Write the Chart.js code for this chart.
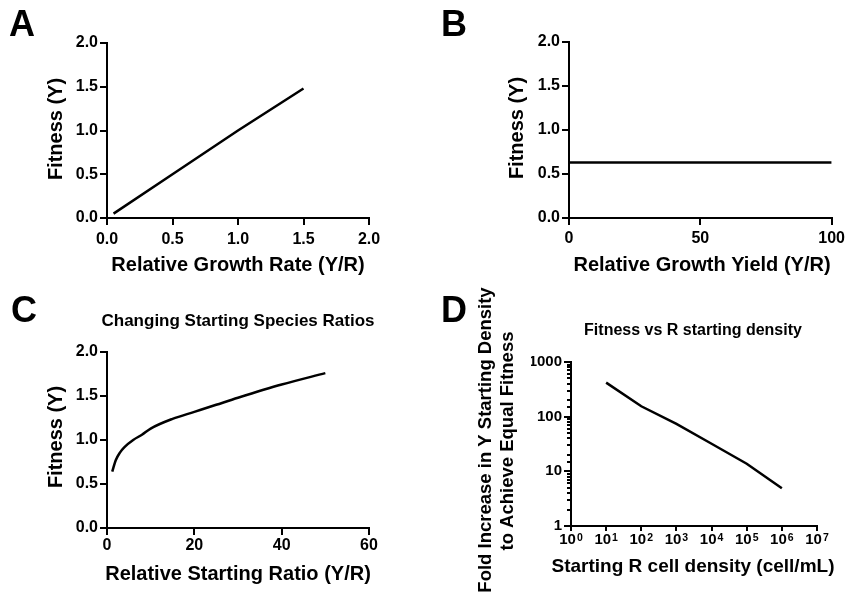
<!DOCTYPE html>
<html>
<head>
<meta charset="utf-8">
<script src="https://cdn.jsdelivr.net/npm/chart.js@4"></script>
<style>
  body { margin: 0; background: #fff; }
  #wrap { position: relative; width: 849px; height: 601px; }
  canvas { position: absolute; left: 0; top: 0; }
</style>
</head>
<body>
<div id="wrap">
  <canvas id="chartA" width="849" height="601"></canvas>
  <canvas id="chartB" width="849" height="601"></canvas>
  <canvas id="chartC" width="849" height="601"></canvas>
  <canvas id="chartD" width="849" height="601"></canvas>
</div>
<script>
// Panel A - fitness vs relative growth rate
const rateA = [0.05, 0.5, 1.0, 1.5];
const fitnessA = [0.05, 0.5, 1.0, 1.48];
const ticksXA = [0, 0.5, 1, 1.5, 2];
const ticksYA = [0, 0.5, 1, 1.5, 2];

// Panel B - fitness vs relative growth yield
const yieldB = [0, 100];
const fitnessB = [0.63, 0.63];
const ticksXB = [0, 50, 100];
const ticksYB = [0, 0.5, 1, 1.5, 2];

// Panel C - fitness vs starting ratio
const ratioC = [1.2, 2, 3, 4, 6, 8, 10, 15, 20, 25, 30, 40, 50];
const fitnessC = [0.64, 0.77, 0.86, 0.92, 1.0, 1.06, 1.13, 1.24, 1.32, 1.40, 1.48, 1.63, 1.76];
const ticksXC = [0, 20, 40, 60];
const ticksYC = [0, 0.5, 1, 1.5, 2];

// Panel D - fold increase vs R starting density (log-log)
const densityD = [1e1, 1e2, 1e3, 1e4, 1e5, 1e6];
const foldD = [420, 155, 74, 32, 13.8, 4.9];
const ticksXD = [1, 1e1, 1e2, 1e3, 1e4, 1e5, 1e6, 1e7];
const tickExpXD = ['0', '1', '2', '3', '4', '5', '6', '7'];
const ticksYD = [1, 10, 100, 1000];
const tickLabelsYD = ['1', '10', '100', '1000'];

const FONT = "'Liberation Sans', Arial, sans-serif";

// draws panel letters, titles and axis titles
const panelText = {
  id: 'panelText',
  afterDraw(chart, args, opts) {
    const ctx = chart.ctx;
    (opts.items || []).forEach(t => {
      ctx.save();
      ctx.font = t.font;
      ctx.fillStyle = '#000';
      ctx.textAlign = t.align || 'center';
      ctx.textBaseline = t.baseline || 'middle';
      ctx.translate(t.x, t.y);
      if (t.rotate) ctx.rotate(-Math.PI / 2);
      ctx.fillText(t.text, 0, 0);
      ctx.restore();
    });
  }
};

// "10" with a raised exponent under each tick of a log x axis
const powerLabels = {
  id: 'powerLabels',
  afterDraw(chart, args, opts) {
    if (!opts.exps) return;
    const ctx = chart.ctx;
    const sc = chart.scales.x;
    const baseY = sc.top + opts.offset;
    ctx.save();
    ctx.fillStyle = '#000';
    ctx.textBaseline = 'alphabetic';
    ctx.textAlign = 'left';
    opts.values.forEach((v, i) => {
      const px = sc.getPixelForValue(v);
      ctx.font = 'bold 15px ' + FONT;
      const w1 = ctx.measureText('10').width;
      ctx.font = 'bold 10.5px ' + FONT;
      const w2 = ctx.measureText(opts.exps[i]).width;
      const x0 = px - (w1 + 1 + w2) / 2;
      ctx.font = 'bold 15px ' + FONT;
      ctx.fillText('10', x0, baseY);
      ctx.font = 'bold 10.5px ' + FONT;
      ctx.fillText(opts.exps[i], x0 + w1 + 1, baseY - 3);
    });
    ctx.restore();
  }
};

function toPoints(xs, ys) {
  return xs.map((x, i) => ({ x: x, y: ys[i] }));
}

function axis(opts) {
  return {
    type: opts.type || 'linear',
    min: opts.min,
    max: opts.max,
    weight: opts.weight || 0,
    display: true,
    border: { display: opts.border !== false, color: '#000', width: 2 },
    grid: { display: true, drawOnChartArea: false, drawTicks: true, tickLength: opts.tl, color: '#000', lineWidth: 2 },
    ticks: {
      display: opts.labels !== false,
      autoSkip: false,
      maxRotation: 0,
      padding: opts.pad,
      color: '#000',
      font: { family: FONT, size: opts.size || 16, weight: 'bold' },
      callback: opts.fmt
    },
    afterBuildTicks: s => { s.ticks = opts.ticks.map(v => ({ value: v })); },
    afterFit: s => {
      if (s.isHorizontal()) s.height = 40; else s.width = opts.width === undefined ? 40 : opts.width;
    }
  };
}

function makeChart(id, area, data, scales, texts, mode, power) {
  return new Chart(document.getElementById(id), {
    type: 'line',
    data: {
      datasets: [{
        data: data,
        borderColor: '#000',
        borderWidth: 2.5,
        pointRadius: 0,
        fill: false,
        tension: mode === 'smooth' ? 0.4 : 0,
        cubicInterpolationMode: mode === 'smooth' ? 'monotone' : 'default'
      }]
    },
    options: {
      responsive: false,
      animation: false,
      events: [],
      layout: {
        padding: { left: area.l - 40, top: area.t, right: 849 - area.r, bottom: 601 - area.b - 40 }
      },
      plugins: {
        legend: { display: false },
        tooltip: { enabled: false },
        panelText: { items: texts },
        powerLabels: power || {}
      },
      scales: scales
    },
    plugins: [panelText, powerLabels]
  });
}

const fmt1 = v => v.toFixed(1);
const fmt0 = v => String(v);
const letterFont = 'bold 36px ' + FONT;
const titleFont = 'bold 20px ' + FONT;

makeChart('chartA', { l: 107, r: 369, t: 43, b: 218 }, toPoints(rateA, fitnessA), {
  x: axis({ min: 0, max: 2, ticks: ticksXA, tl: 7, pad: 5, fmt: fmt1 }),
  y: axis({ min: 0, max: 2, ticks: ticksYA, tl: 7, pad: 2, fmt: fmt1 })
}, [
  { text: 'A', x: 9, y: 36, font: letterFont, align: 'left', baseline: 'alphabetic' },
  { text: 'Fitness (Y)', x: 56, y: 129, font: titleFont, rotate: true },
  { text: 'Relative Growth Rate (Y/R)', x: 238, y: 265, font: titleFont }
]);

makeChart('chartB', { l: 569, r: 833, t: 42, b: 218 }, toPoints(yieldB, fitnessB), {
  x: axis({ min: 0, max: 100, ticks: ticksXB, tl: 7, pad: 4, fmt: fmt0 }),
  y: axis({ min: 0, max: 2, ticks: ticksYB, tl: 7, pad: 2, fmt: fmt1 })
}, [
  { text: 'B', x: 441, y: 36, font: letterFont, align: 'left', baseline: 'alphabetic' },
  { text: 'Fitness (Y)', x: 517, y: 128, font: titleFont, rotate: true },
  { text: 'Relative Growth Yield (Y/R)', x: 702, y: 265, font: titleFont }
]);

makeChart('chartC', { l: 107, r: 369, t: 352, b: 528 }, toPoints(ratioC, fitnessC), {
  x: axis({ min: 0, max: 60, ticks: ticksXC, tl: 7, pad: 1, fmt: fmt0 }),
  y: axis({ min: 0, max: 2, ticks: ticksYC, tl: 7, pad: 2, fmt: fmt1 })
}, [
  { text: 'C', x: 11, y: 322, font: letterFont, align: 'left', baseline: 'alphabetic' },
  { text: 'Changing Starting Species Ratios', x: 238, y: 321, font: 'bold 17px ' + FONT },
  { text: 'Fitness (Y)', x: 56, y: 437, font: titleFont, rotate: true },
  { text: 'Relative Starting Ratio (Y/R)', x: 238, y: 574, font: titleFont }
], 'smooth');

makeChart('chartD', { l: 571, r: 817, t: 362, b: 526 }, toPoints(densityD, foldD), {
  x: axis({ type: 'logarithmic', min: 1, max: 1e7, ticks: ticksXD, tl: 5, pad: 0, size: 15, labels: false }),
  y: axis({ type: 'logarithmic', min: 1, max: 1000, ticks: ticksYD, tl: 7, pad: 2, size: 15, weight: 1,
            fmt: (v, i) => tickLabelsYD[i] }),
  yMinor: Object.assign(axis({ type: 'logarithmic', min: 1, max: 1000, tl: 4, pad: 0, labels: false,
            border: false, width: 0, ticks: [] }), {
    position: 'left',
    afterBuildTicks: s => {
      s.ticks = s.ticks.filter(t => !ticksYD.includes(t.value)).map(t => ({ value: t.value }));
    }
  })
}, [
  { text: 'D', x: 441, y: 322, font: letterFont, align: 'left', baseline: 'alphabetic' },
  { text: 'Fitness vs R starting density', x: 693, y: 331, font: 'bold 16px ' + FONT },
  { text: 'Fold Increase in Y Starting Density', x: 486, y: 440, font: 'bold 18.5px ' + FONT, rotate: true },
  { text: 'to Achieve Equal Fitness', x: 508, y: 441, font: 'bold 18.5px ' + FONT, rotate: true },
  { text: 'Starting R cell density (cell/mL)', x: 693, y: 567, font: 'bold 19px ' + FONT }
], 'straight', { values: ticksXD, exps: tickExpXD, offset: 18 });
</script>
</body>
</html>
